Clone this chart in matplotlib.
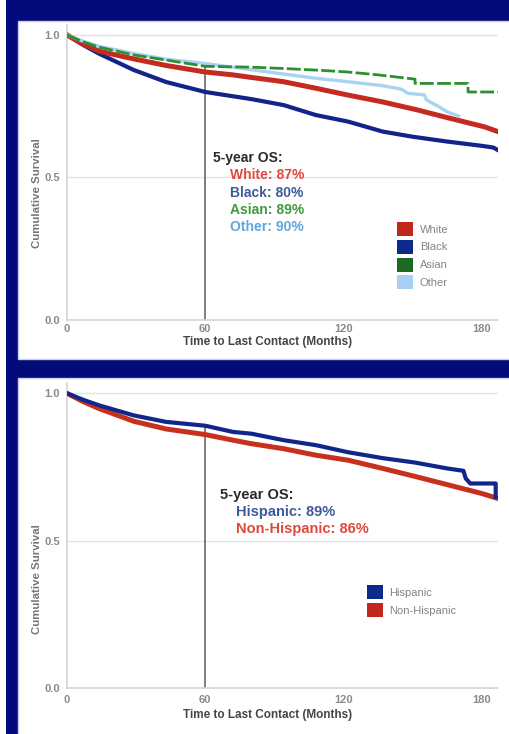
import matplotlib.pyplot as plt
import matplotlib.patches as mpatches

plt.rcParams['font.family'] = ['Liberation Sans', 'DejaVu Sans']

# --- race panel (months, cumulative survival) ---
white_t = [0, 7, 14, 29, 43, 60, 72, 80, 94, 108, 122, 137, 152, 166, 181, 187]
white_s = [1.0, 0.968, 0.943, 0.916, 0.893, 0.87, 0.86, 0.851, 0.836, 0.813, 0.789, 0.765, 0.737, 0.708, 0.678, 0.661]

black_t = [0, 7, 14, 29, 43, 60, 72, 80, 94, 108, 122, 137, 150, 165, 180, 185, 187]
black_s = [1.0, 0.965, 0.934, 0.877, 0.835, 0.80, 0.785, 0.775, 0.754, 0.719, 0.696, 0.661, 0.643, 0.626, 0.611, 0.605, 0.596]

asian_t = [0, 7, 14, 29, 43, 60, 80, 95, 110, 122, 135, 151, 151, 174, 174, 187]
asian_s = [1.0, 0.976, 0.957, 0.93, 0.912, 0.89, 0.887, 0.882, 0.876, 0.87, 0.86, 0.845, 0.83, 0.83, 0.80, 0.80]

other_t = [0, 7, 14, 29, 43, 60, 80, 95, 108, 122, 137, 145, 148, 155, 156, 161, 165, 170]
other_s = [1.0, 0.978, 0.96, 0.935, 0.915, 0.90, 0.878, 0.862, 0.848, 0.836, 0.822, 0.81, 0.795, 0.79, 0.772, 0.75, 0.73, 0.715]

race_names = ['White', 'Black', 'Asian', 'Other']
race_os = [87, 80, 89, 90]

# --- ethnicity panel ---
hisp_t = [0, 7, 14, 29, 43, 60, 72, 80, 94, 108, 122, 137, 151, 165, 172, 173, 175, 186, 186]
hisp_s = [1.0, 0.978, 0.959, 0.925, 0.903, 0.89, 0.869, 0.863, 0.841, 0.824, 0.80, 0.78, 0.765, 0.745, 0.737, 0.711, 0.694, 0.694, 0.648]

nonhisp_t = [0, 7, 14, 29, 43, 60, 72, 80, 94, 108, 122, 137, 151, 165, 180, 187]
nonhisp_s = [1.0, 0.972, 0.948, 0.905, 0.879, 0.86, 0.841, 0.829, 0.812, 0.79, 0.773, 0.745, 0.718, 0.69, 0.66, 0.643]

eth_names = ['Hispanic', 'Non-Hispanic']
eth_os = [89, 86]

landmark = 60
xticks = [0, 60, 120, 180]

W, H = 509, 734
fig = plt.figure(figsize=(W / 100, H / 100), dpi=100)
fig.patch.set_facecolor('white')

def px_rect(x0, y0, x1, y1, **kw):
    r = mpatches.Rectangle((x0 / W, 1 - y1 / H), (x1 - x0) / W, (y1 - y0) / H,
                           transform=fig.transFigure, zorder=-10, **kw)
    fig.patches.append(r)

# slide background and the two white panels
px_rect(6, 0, W, H, facecolor='#030b7a', edgecolor='none')
px_rect(18, 21, W + 2, 359, facecolor='white', edgecolor='#c9cdf0', lw=1)
px_rect(18, 378, W + 2, H + 2, facecolor='white', edgecolor='#c9cdf0', lw=1)


def style_axes(ax, ylab_y, xlab_y, xpad):
    ax.set_xlim(0, 187)
    ax.set_ylim(0, 1.035)
    ax.set_facecolor('none')
    for s in ['top', 'right']:
        ax.spines[s].set_visible(False)
    for s in ['left', 'bottom']:
        ax.spines[s].set_color('#d4d4d4')
        ax.spines[s].set_linewidth(1.2)
    ax.set_yticks([0.0, 0.5, 1.0])
    ax.set_yticklabels(['0.0', '0.5', '1.0'])
    ax.set_xticks(xticks)
    ax.tick_params(length=0, labelsize=8, labelcolor='#8a8a8a', pad=5)
    ax.tick_params(axis='x', pad=xpad)
    for lab in ax.get_xticklabels() + ax.get_yticklabels():
        lab.set_fontweight('bold')
    for y in [0.5, 1.0]:
        ax.axhline(y, color='#e2e2e2', lw=1, zorder=0)
    ax.set_xlabel('Time to Last Contact (Months)', fontsize=8.5,
                  fontweight='bold', color='#454545')
    ax.xaxis.set_label_coords(0.466, xlab_y)
    ax.set_ylabel('Cumulative Survival', fontsize=8.2, fontweight='bold',
                  color='#767676')
    ax.yaxis.set_label_coords(-0.058, ylab_y)


# ---------- top: race ----------
ax1 = fig.add_axes([67 / W, 1 - 320 / H, 431 / W, 295 / H])
style_axes(ax1, 0.43, -0.054, 3)
ax1.vlines(landmark, 0, max(race_os) / 100, color='#5a5a5a', lw=1.1, zorder=1)
ax1.plot(black_t, black_s, color='#10248a', lw=3.0, zorder=2)
ax1.plot(white_t, white_s, color='#c42a20', lw=3.6, zorder=3)
ax1.plot(other_t, other_s, color='#a8d3f3', lw=2.4, zorder=4)
ax1.plot(asian_t, asian_s, color='#2f8f2f', lw=2.0, ls=(0, (5, 1.2)), zorder=5)

race_txt = ['#e0493f', '#3f5a98', '#3f9a3f', '#5ea6de']
ax1.text(63.5, 0.568, '5-year OS:', fontsize=10, fontweight='bold',
         color='#2a2a2a', va='center')
for i, (nm, v, c) in enumerate(zip(race_names, race_os, race_txt)):
    ax1.text(70.9, 0.568 - (i + 1) * 0.0607, f'{nm}: {v}%', fontsize=10,
             fontweight='bold', color=c, va='center')

race_sq = ['#c0281e', '#0c2a8a', '#1a6a22', '#a8d0f4']
h1 = [mpatches.Patch(facecolor=c, edgecolor='none', label=n)
      for n, c in zip(race_names, race_sq)]
ax1.legend(handles=h1, loc='upper left', bbox_to_anchor=(397 / W, 1 - 222 / H),
           bbox_transform=fig.transFigure, frameon=False, fontsize=8,
           labelcolor='#858585', handlelength=1.45, handleheight=1.55,
           handletextpad=0.6, labelspacing=0.35, borderpad=0, borderaxespad=0)

# ---------- bottom: ethnicity ----------
ax2 = fig.add_axes([67 / W, 1 - 688 / H, 431 / W, 305 / H])
style_axes(ax2, 0.357, -0.07, 5)
ax2.vlines(landmark, 0, max(eth_os) / 100, color='#5a5a5a', lw=1.1, zorder=1)
ax2.plot(nonhisp_t, nonhisp_s, color='#c8301e', lw=3.6, zorder=2)
ax2.plot(hisp_t, hisp_s, color='#10268a', lw=3.0, zorder=3)

eth_txt = ['#3f5a9c', '#e0483e']
ax2.text(66.5, 0.654, '5-year OS:', fontsize=10.5, fontweight='bold',
         color='#2a2a2a', va='center')
for i, (nm, v, c) in enumerate(zip(eth_names, eth_os, eth_txt)):
    ax2.text(73.5, 0.654 - (i + 1) * 0.0576, f'{nm}: {v}%', fontsize=10.5,
             fontweight='bold', color=c, va='center')

eth_sq = ['#0c2a8a', '#c0281e']
h2 = [mpatches.Patch(facecolor=c, edgecolor='none', label=n)
      for n, c in zip(eth_names, eth_sq)]
ax2.legend(handles=h2, loc='upper left', bbox_to_anchor=(367 / W, 1 - 585 / H),
           bbox_transform=fig.transFigure, frameon=False, fontsize=8,
           labelcolor='#858585', handlelength=1.4, handleheight=1.55,
           handletextpad=0.6, labelspacing=0.4, borderpad=0, borderaxespad=0)

fig.savefig('out.png', dpi=100)
